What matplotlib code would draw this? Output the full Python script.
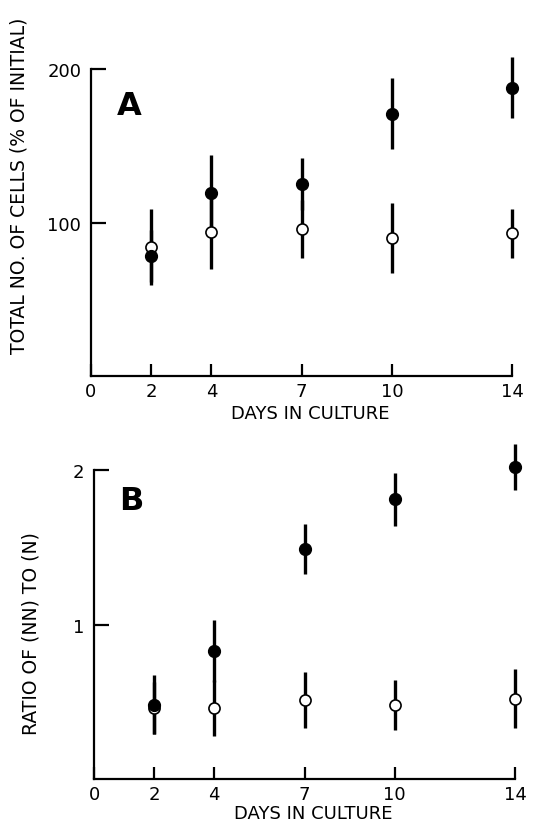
import matplotlib
matplotlib.use("Agg")
import matplotlib.pyplot as plt
import numpy as np

plt.rcParams["font.family"] = ["DejaVu Sans"]

# days in culture
days = [2, 4, 7, 10, 14]
xtick_vals = [0, 2, 4, 7, 10, 14]

# panel A: total no. of cells (% of initial)
a_filled = [78, 119, 125, 171, 188]
a_filled_err = [17, 25, 17, 23, 20]
a_open = [84, 94, 96, 90, 93]
a_open_err = [25, 24, 19, 23, 16]

# panel B: ratio of (NN) to (N)
b_filled = [0.48, 0.83, 1.49, 1.81, 2.02]
b_filled_err = [0.19, 0.20, 0.16, 0.17, 0.15]
b_open = [0.46, 0.46, 0.51, 0.48, 0.52]
b_open_err = [0.17, 0.18, 0.18, 0.16, 0.19]

fig = plt.figure(figsize=(5.33, 8.29), dpi=100)
ax_a = fig.add_axes([0.1707, 0.5452, 0.8246, 0.398])
ax_b = fig.add_axes([0.1764, 0.0591, 0.8237, 0.410])


def draw_panel(ax, filled, filled_err, opn, opn_err, ymax, ytop, yticks, ylabel,
               letter, letter_y, ylab_xy, xlab_y):
    ax.errorbar(days, opn, yerr=opn_err, fmt="none", ecolor="black", elinewidth=2.4, capsize=0, zorder=1)
    ax.errorbar(days, filled, yerr=filled_err, fmt="none", ecolor="black", elinewidth=2.4, capsize=0, zorder=1)
    ax.plot(days, opn, "o", ms=8, mfc="white", mec="black", mew=1.2, zorder=3)
    ax.plot(days, filled, "o", ms=8.5, mfc="black", mec="black", zorder=4)

    ax.set_xlim(0, 14.6)
    ax.set_ylim(0, ymax)
    for s in ["top", "right"]:
        ax.spines[s].set_visible(False)
    ax.spines["left"].set_bounds(0, ytop)
    ax.spines["bottom"].set_bounds(0, 14)
    ax.spines["left"].set_linewidth(1.6)
    ax.spines["bottom"].set_linewidth(1.6)

    ax.set_xticks(xtick_vals)
    ax.set_xticklabels([str(v) for v in xtick_vals], fontsize=13)
    ax.set_yticks(yticks)
    ax.set_yticklabels([str(v) for v in yticks], fontsize=13)
    ax.tick_params(axis="x", direction="in", length=9, width=1.6, pad=4)
    ax.tick_params(axis="y", direction="in", length=11, width=1.6, pad=7)

    ax.set_xlabel("DAYS IN CULTURE", fontsize=13)
    ax.xaxis.set_label_coords(0.5 * 14 / 14.6 + 0.02, xlab_y)
    ax.set_ylabel(ylabel, fontsize=13.5)
    ax.yaxis.set_label_coords(*ylab_xy)
    ax.text(0.85, letter_y, letter, fontsize=23, fontweight="bold", ha="left", va="center")


draw_panel(ax_a, a_filled, a_filled_err, a_open, a_open_err, 215, 200, [100, 200],
           "TOTAL NO. OF CELLS (% OF INITIAL)", "A", 176, (-0.142, 0.58), -0.085)
draw_panel(ax_b, b_filled, b_filled_err, b_open, b_open_err, 2.2, 2, [1, 2],
           "RATIO OF (NN) TO (N)", "B", 1.8, (-0.122, 0.432), -0.073)

fig.savefig("out.png", dpi=100)
